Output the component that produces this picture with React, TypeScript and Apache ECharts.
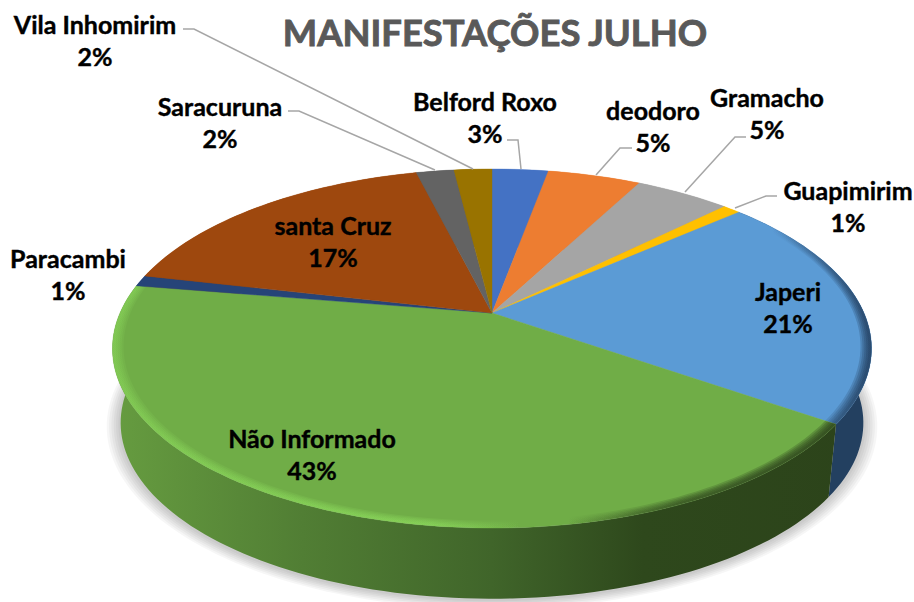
import React, { useEffect, useRef } from "react";
import * as echarts from "echarts";

const titleText = "MANIFESTAÇÕES JULHO";
const categories = ["Belford Roxo", "deodoro", "Gramacho", "Guapimirim", "Japeri", "Não Informado", "Paracambi", "santa Cruz", "Saracuruna", "Vila Inhomirim"];
const values = [2.9, 4.8, 4.9, 0.9, 21.2, 42.9, 1.0, 17.5, 1.95, 1.95];
const percentLabels = ["3%", "5%", "5%", "1%", "21%", "43%", "1%", "17%", "2%", "2%"];

const colors = ["#4472c4", "#ed7d31", "#a5a5a5", "#ffc000", "#5b9bd5", "#70ad47", "#264478", "#9e480e", "#636363", "#997300"];

const labelCenters = [[485, 117], [653, 126], [767, 113], [848, 206], [788, 307], [312, 454], [68, 274], [333, 241], [220, 122], [95, 40]];
const leaders: (number[][] | null)[] = [
  [[507, 140], [518, 140], [521, 169]],
  [[632, 148], [620, 148], [596, 175]],
  [[746, 137], [735, 137], [685, 192]],
  [[777, 196], [766, 196], [735, 208]],
  null, null, null, null,
  [[288, 111], [299, 111], [435, 170]],
  [[183, 29], [194, 29], [473, 169]],
];

const TOP = { cx: 492, cy: 313, f: 372, g: 172.5 };
const BOTTOM = { cx: 492, cy: 388, f: 364, g: 169 };
const K = 0.198;
const rimSteps = [0.972, 0.977, 0.982, 0.987, 0.992];
const shadowSteps = [1.036, 1.03, 1.024, 1.018, 1.012, 1.006];

const total = values.reduce((a, b) => a + b, 0);
const startFrac = (i: number) => values.slice(0, i).reduce((a, b) => a + b, 0) / total;

function project(p: typeof TOP, frac: number, r = 1): number[] {
  const a = frac * Math.PI * 2;
  const s = Math.sin(a) * r;
  const c = -Math.cos(a) * r;
  const w = 1 - K * c;
  return [p.cx + (p.f * s) / w, p.cy + (p.g * c) / w];
}
function arc(p: typeof TOP, f0: number, f1: number, r = 1): number[][] {
  const n = Math.max(2, Math.ceil((f1 - f0) * 240));
  const out: number[][] = [];
  for (let i = 0; i <= n; i++) out.push(project(p, f0 + ((f1 - f0) * i) / n, r));
  return out;
}
const hGrad = (stops: [number, string][]) =>
  new echarts.graphic.LinearGradient(113, 0, 870, 0, stops.map(([offset, color]) => ({ offset, color })), true);

const wallFill = (i: number) => {
  if (i === 5)
    return hGrad([[0, "#669c40"], [0.25, "#517e34"], [0.5, "#40652a"], [0.7, "#2e481c"], [1, "#2c431a"]]);
  if (i === 4) return "#234060";
  return colors[i];
};
const rimOverlay = (i: number) => {
  if (i === 5)
    return hGrad([
      [0, "rgba(150,235,100,0.1)"],
      [0.42, "rgba(150,235,100,0.14)"],
      [0.54, "rgba(150,235,100,0)"],
      [0.6, "rgba(40,60,25,0)"],
      [0.75, "rgba(40,60,25,0.2)"],
      [1, "rgba(40,60,25,0.28)"],
    ]);
  if (i === 4)
    return hGrad([
      [0, "rgba(30,55,85,0)"],
      [0.87, "rgba(30,55,85,0)"],
      [0.96, "rgba(30,55,85,0.18)"],
      [1, "rgba(30,55,85,0.26)"],
    ]);
  return null;
};

export default function App() {
  const ref = useRef<HTMLDivElement>(null);
  useEffect(() => {
    const chart = echarts.init(ref.current!, undefined, { renderer: "svg" });
    const data = values.map((v, i) => ({ name: categories[i], value: v }));
    chart.setOption({
      animation: false,
      backgroundColor: "#ffffff",
      title: {
        text: titleText,
        left: 490,
        top: 9,
        textAlign: "center",
        textStyle: {
          fontFamily: "Lato",
          fontWeight: "bold",
          fontSize: 36.4,
          color: "#595959",
          textBorderColor: "#595959",
          textBorderWidth: 0.9,
        },
      },
      series: [
        {
          type: "custom",
          coordinateSystem: "none",
          z: 1,
          silent: true,
          data: shadowSteps.map((r) => [r]),
          renderItem: (_: any, api: any) => ({
            type: "polygon",
            shape: { points: arc({ ...BOTTOM, cy: BOTTOM.cy + 1 }, 0, 1, api.value(0)) },
            style: { fill: "rgba(0,0,0,0.035)" },
          }),
        },
        {
          type: "custom",
          coordinateSystem: "none",
          z: 2,
          silent: true,
          data,
          renderItem: (params: any) => {
            const i = params.dataIndex;
            const f0 = startFrac(i);
            const f1 = startFrac(i + 1);
            const pts = [...arc(TOP, f0, f1), ...arc(BOTTOM, f0, f1).reverse()];
            return { type: "polygon", shape: { points: pts }, style: { fill: wallFill(i) } };
          },
        },
        {
          type: "custom",
          coordinateSystem: "none",
          z: 3,
          silent: true,
          data,
          renderItem: (params: any) => {
            const i = params.dataIndex;
            const f0 = startFrac(i);
            const f1 = startFrac(i + 1);
            const top = [[TOP.cx, TOP.cy], ...arc(TOP, f0, f1)];
            const children: any[] = [
              { type: "polygon", shape: { points: top }, style: { fill: colors[i], stroke: colors[i], lineWidth: 0.4 } },
            ];
            const overlay = rimOverlay(i);
            if (overlay)
              rimSteps.forEach((r) =>
                children.push({
                  type: "polygon",
                  shape: { points: [...arc(TOP, f0, f1), ...arc(TOP, f0, f1, r).reverse()] },
                  style: { fill: overlay },
                })
              );
            return { type: "group", children };
          },
        },
        {
          type: "custom",
          coordinateSystem: "none",
          z: 4,
          silent: true,
          data,
          renderItem: (params: any) => {
            const i = params.dataIndex;
            const [x, y] = labelCenters[i];
            const line = leaders[i];
            const children: any[] = [];
            if (line)
              children.push({
                type: "polyline",
                shape: { points: line },
                style: { fill: "none", stroke: "#a6a6a6", lineWidth: 1.5 },
              });
            children.push({
              type: "text",
              x,
              y,
              style: {
                text: `${categories[i]}\n${percentLabels[i]}`,
                fontFamily: "Lato",
                fontWeight: "bold",
                fontSize: 25,
                lineHeight: 32,
                fill: "#000000",
                stroke: "#000000",
                lineWidth: 0.4,
                align: "center",
                verticalAlign: "middle",
              },
            });
            return { type: "group", children };
          },
        },
      ],
    });
    return () => chart.dispose();
  }, []);
  return <div ref={ref} style={{ position: "absolute", left: 0, top: 0, width: 914, height: 602 }} />;
}
